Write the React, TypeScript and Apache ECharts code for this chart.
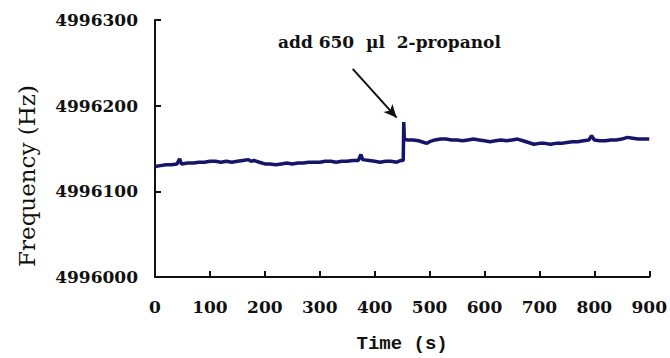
import React, { useEffect, useRef } from "react";
import * as echarts from "echarts";

const timeS: number[] = [
  0, 10, 20, 30, 40, 45, 48, 60, 70, 80, 90, 100, 110, 120, 130, 140, 150, 160, 170, 175,
  180, 190, 200, 210, 220, 230, 240, 250, 260, 270, 280, 290, 300, 310, 320, 330, 340, 350,
  360, 370, 375, 378, 390, 400, 410, 420, 430, 440, 448, 452, 453, 454, 460, 470, 480, 490,
  495, 500, 510, 520, 530, 540, 550, 560, 570, 580, 590, 600, 610, 620, 630, 640, 650, 660,
  670, 680, 690, 700, 710, 720, 730, 740, 750, 760, 770, 780, 790, 795, 800, 810, 820, 830,
  840, 850, 860, 870, 880, 890, 900,
];
const freqHz: number[] = [
  4996129, 4996130, 4996131, 4996131, 4996132, 4996138, 4996132, 4996133, 4996133, 4996134,
  4996134, 4996135, 4996135, 4996134, 4996135, 4996134, 4996135, 4996136, 4996137, 4996135,
  4996136, 4996134, 4996132, 4996132, 4996131, 4996132, 4996133, 4996132, 4996133, 4996133,
  4996134, 4996134, 4996134, 4996135, 4996135, 4996134, 4996135, 4996135, 4996136, 4996136,
  4996143, 4996137, 4996136, 4996135, 4996134, 4996135, 4996135, 4996134, 4996136, 4996136,
  4996181, 4996161, 4996160, 4996160, 4996159, 4996157, 4996156, 4996158, 4996160, 4996161,
  4996161, 4996160, 4996160, 4996159, 4996160, 4996161, 4996160, 4996159, 4996158, 4996159,
  4996160, 4996159, 4996160, 4996161, 4996159, 4996157, 4996155, 4996156, 4996156, 4996155,
  4996156, 4996156, 4996157, 4996158, 4996158, 4996159, 4996160, 4996165, 4996160, 4996159,
  4996159, 4996160, 4996160, 4996161, 4996163, 4996162, 4996161, 4996161, 4996161,
];
const xTicks = { min: 0, max: 900, interval: 100 };
const yTicks = { min: 4996000, max: 4996300, interval: 100 };
const annotationText = "add 650  \u00b5l  2-propanol";
const arrowFrom: [number, number] = [360, 4996243];
const arrowTo: [number, number] = [440, 4996186];

export default function App() {
  const ref = useRef<HTMLDivElement>(null);
  useEffect(() => {
    if (!ref.current) return;
    const chart = echarts.init(ref.current, null, { renderer: "svg" });
    const tickFont = {
      fontFamily: "DejaVu Serif",
      fontWeight: "bold" as const,
      fontSize: 17,
      color: "#111",
    };
    chart.setOption({
      animation: false,
      backgroundColor: "#fff",
      grid: { left: 155, right: 20, top: 20, bottom: 74 },
      xAxis: {
        type: "value",
        min: xTicks.min,
        max: xTicks.max,
        interval: xTicks.interval,
        name: "Time (s)",
        nameLocation: "middle",
        nameGap: 57,
        nameTextStyle: {
          fontFamily: "Liberation Mono",
          fontWeight: "bold",
          fontSize: 19,
          color: "#111",
        },
        axisLine: { lineStyle: { color: "#111", width: 2 } },
        axisTick: { inside: true, length: 6, lineStyle: { color: "#111", width: 2 } },
        axisLabel: { ...tickFont, margin: 21, formatter: (v: number) => String(v) },
        splitLine: { show: false },
      },
      yAxis: {
        type: "value",
        min: yTicks.min,
        max: yTicks.max,
        interval: yTicks.interval,
        axisLine: { show: true, lineStyle: { color: "#111", width: 2 } },
        axisTick: { show: true, inside: true, length: 6, lineStyle: { color: "#111", width: 2 } },
        axisLabel: { ...tickFont, margin: 17, formatter: (v: number) => String(v) },
        splitLine: { show: false },
      },
      graphic: [
        {
          type: "text",
          x: 27,
          y: 176,
          rotation: Math.PI / 2,
          style: {
            text: "Frequency (Hz)",
            fontFamily: "DejaVu Serif",
            fontSize: 23,
            fill: "#111",
            textAlign: "center",
            textVerticalAlign: "middle",
          },
        },
        {
          type: "text",
          left: 278,
          top: 33,
          style: {
            text: annotationText,
            fontFamily: "DejaVu Serif",
            fontWeight: "bold",
            fontSize: 17,
            fill: "#111",
          },
        },
      ],
      series: [
        {
          type: "line",
          data: timeS.map((t, i) => [t, freqHz[i]]),
          showSymbol: false,
          lineStyle: { color: "#15156a", width: 3.5 },
          markLine: {
            silent: true,
            symbol: ["none", "arrow"],
            symbolSize: [9, 13],
            label: { show: false },
            lineStyle: { color: "#111", width: 2, type: "solid" },
            data: [[{ coord: arrowFrom }, { coord: arrowTo }]],
          },
        },
      ],
    });
    return () => chart.dispose();
  }, []);
  return (
    <div
      ref={ref}
      style={{ position: "absolute", left: 0, top: 0, width: 670, height: 358 }}
    />
  );
}
